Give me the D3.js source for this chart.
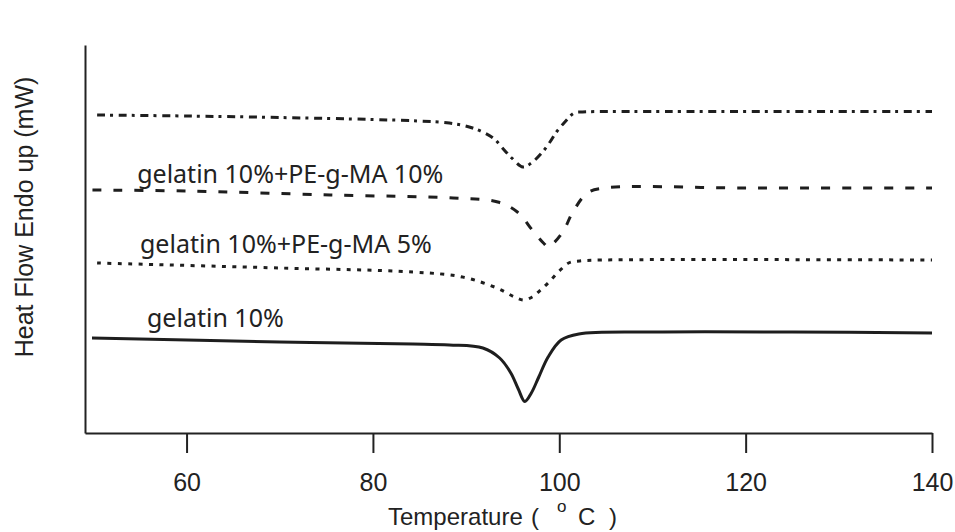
<!DOCTYPE html>
<html>
<head>
<meta charset="utf-8">
<script src="https://cdn.jsdelivr.net/npm/d3@7/dist/d3.min.js"></script>
<style>
  html, body { margin: 0; padding: 0; background: #fff; }
  svg { display: block; }
  .lbl { font-family: "Noto Sans", sans-serif; fill: #222; }
  .ttl { font-family: "Liberation Sans", Arial, sans-serif; fill: #222; }
</style>
</head>
<body>
<svg id="chart" width="955" height="532"></svg>
<script>
// DSC heating scans: temperature (°C) vs heat flow (arbitrary offset, mW)
const xTicks = [60, 80, 100, 120, 140];

const tempPEMA10 = [50.4, 60, 70, 80, 85, 88.2, 90.7, 92.9, 93.9, 94.9, 96.1, 97.0, 98.2, 99.0, 99.7, 100.6, 101.6, 102.5, 110, 140];
const flowPEMA10 = [31.8, 31.7, 31.55, 31.35, 31.2, 31.0, 30.5, 29.5, 28.5, 27.5, 26.6, 27.0, 28.1, 29.1, 30.1, 31.1, 32.0, 32.1, 32.15, 32.15];

const tempPEMA10b = [49.9, 60, 75.4, 88.6, 93.4, 95.5, 97.1, 98.3, 98.8, 99.4, 100.5, 101.4, 103.0, 104.8, 120, 140];
const flowPEMA10b = [24.3, 24.2, 23.8, 23.5, 23.1, 22.1, 20.3, 19.0, 18.6, 19.0, 20.3, 22.0, 24.0, 24.5, 24.5, 24.5];

const tempPEMA5 = [50.4, 70, 84.3, 89.6, 93.3, 95.2, 96.2, 97.1, 98.0, 98.9, 99.9, 101.0, 102.2, 104.6, 140];
const flowPEMA5 = [17.0, 16.5, 16.1, 15.6, 14.5, 13.6, 13.3, 13.6, 14.3, 15.1, 16.1, 17.0, 17.2, 17.3, 17.3];

const tempGel = [49.85, 70, 84.3, 88.2, 91.8, 93.6, 94.8, 95.6, 96.3, 97.0, 97.8, 98.8, 100.2, 102.1, 110, 125, 140];
const flowGel = [9.5, 9.1, 8.9, 8.8, 8.5, 7.5, 6.0, 4.4, 3.15, 4.0, 5.6, 7.6, 9.3, 9.9, 10.1, 10.1, 10.0];

const seriesNames = ["", "gelatin 10%+PE-g-MA 10%", "gelatin 10%+PE-g-MA 5%", "gelatin 10%"];

const series = [
  { temp: tempPEMA10,  flow: flowPEMA10,  dash: "8,5,3,5.7" },
  { temp: tempPEMA10b, flow: flowPEMA10b, dash: "9,12" },
  { temp: tempPEMA5,   flow: flowPEMA5,   dash: "4,6.4" },
  { temp: tempGel,     flow: flowGel,     dash: null }
];

const svg = d3.select("#chart");
const margin = { left: 85, right: 23, top: 45, bottom: 99 };
const W = 955, H = 532;

const x = d3.scaleLinear().domain([49.1, 140]).range([margin.left, W - margin.right]);
const y = d3.scaleLinear().domain([0, 38.8]).range([H - margin.bottom, margin.top]);

// axes
const xAxis = d3.axisBottom(x).tickValues(xTicks).tickSize(20).tickSizeOuter(0).tickPadding(20);
const gx = svg.append("g").attr("transform", `translate(0,${y(0)})`).call(xAxis);
gx.select(".domain").attr("stroke", "#222").attr("stroke-width", 2);
gx.selectAll(".tick line").attr("stroke", "#222").attr("stroke-width", 2);
gx.selectAll(".tick text")
  .style("font-family", "'Liberation Sans', Arial, sans-serif")
  .style("font-size", "25px")
  .attr("fill", "#222");

const yAxis = d3.axisLeft(y).tickValues([]).tickSizeOuter(0);
const gy = svg.append("g").attr("transform", `translate(${x(49.1)},0)`).call(yAxis);
gy.select(".domain").attr("stroke", "#222").attr("stroke-width", 2);

// curves
const line = d3.line()
  .x(d => x(d[0]))
  .y(d => y(d[1]))
  .curve(d3.curveCatmullRom.alpha(0.5));

series.forEach(s => {
  const pts = s.temp.map((t, i) => [t, s.flow[i]]);
  svg.append("path")
    .attr("d", line(pts))
    .attr("fill", "none")
    .attr("stroke", "#1e1e1e")
    .attr("stroke-width", 3)
    .attr("stroke-dasharray", s.dash);
});

// curve labels
const labelPos = [null, [54.7, 25.0], [55.0, 18.0], [55.75, 10.6]];
seriesNames.forEach((name, i) => {
  if (!name) return;
  svg.append("text")
    .attr("class", "lbl")
    .attr("x", x(labelPos[i][0]))
    .attr("y", y(labelPos[i][1]))
    .style("font-size", "25px")
    .text(name);
});

// axis titles
const xt = svg.append("text")
  .attr("class", "ttl")
  .attr("y", 525)
  .style("font-size", "24px");
xt.append("tspan").attr("x", 388).text("Temperature");
xt.append("tspan").attr("x", 531).text("(");
xt.append("tspan").attr("x", 557).attr("dy", -13).style("font-size", "17px").text("o");
xt.append("tspan").attr("x", 578).attr("dy", 13).text("C");
xt.append("tspan").attr("x", 609).text(")");

svg.append("text")
  .attr("class", "ttl")
  .attr("transform", "translate(33,217) rotate(-90)")
  .attr("text-anchor", "middle")
  .style("font-size", "25px")
  .text("Heat Flow Endo up (mW)");
</script>
</body>
</html>
